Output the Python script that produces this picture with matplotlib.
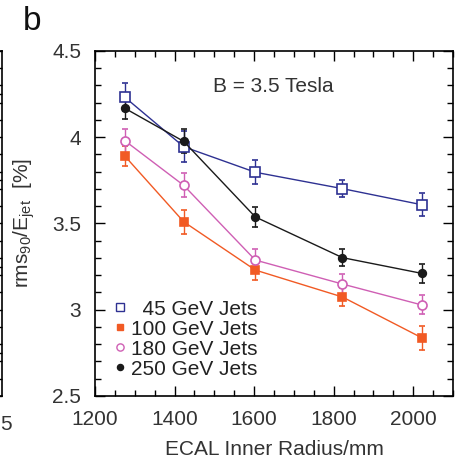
import matplotlib.pyplot as plt
from matplotlib.ticker import MultipleLocator
from matplotlib.lines import Line2D

plt.rcParams['font.family'] = ['Liberation Sans', 'DejaVu Sans']
plt.rcParams['mathtext.fontset'] = 'custom'
plt.rcParams['mathtext.rm'] = 'Liberation Sans'
plt.rcParams['mathtext.it'] = 'Liberation Sans:italic'

radius = [1275, 1423, 1603, 1822, 2021]
jets = ['45', '100', '180', '250']
labels = ['  45 GeV Jets', '100 GeV Jets', '180 GeV Jets', '250 GeV Jets']
rms = {
    '45': [4.232, 3.945, 3.797, 3.702, 3.609],
    '100': [3.891, 3.510, 3.230, 3.074, 2.838],
    '180': [3.980, 3.721, 3.288, 3.149, 3.028],
    '250': [4.168, 3.976, 3.538, 3.302, 3.211],
}
err = {
    '45': [0.08, 0.09, 0.07, 0.05, 0.065],
    '100': [0.06, 0.07, 0.06, 0.05, 0.07],
    '180': [0.07, 0.07, 0.065, 0.06, 0.055],
    '250': [0.06, 0.07, 0.06, 0.05, 0.055],
}
colors = {'45': '#2E3192', '100': '#F15A24', '180': '#CF5FB4', '250': '#1A1A1A'}
markers = {'45': 's', '100': 's', '180': 'o', '250': 'o'}
filled = {'45': False, '100': True, '180': False, '250': True}
msize = {'45': 7, '100': 6, '180': 6.5, '250': 5.5}
FS = 15

fig = plt.figure(figsize=(4.58, 4.59), dpi=100)

# edge of the neighbouring panel (cut off)
axl = fig.add_axes([-0.5, 0.1373, 0.5044, 0.7516])
axl.set_xticks([])
axl.set_ylim(2.5, 4.5)
axl.yaxis.set_minor_locator(MultipleLocator(0.1))
axl.tick_params(axis='y', which='both', direction='in', left=False, right=True,
                labelleft=False, length=5, width=1)
for s in axl.spines.values():
    s.set_linewidth(1.2)
fig.text(0.001, 0.075, '5', fontsize=FS, color='#333333', ha='left', va='center')

ax = fig.add_axes([0.2074, 0.1373, 0.7817, 0.7516])
handles = []
for j, lab in zip(jets, labels):
    c = colors[j]
    mfc = c if filled[j] else 'white'
    ax.errorbar(radius, rms[j], yerr=err[j], color=c, ecolor=c, lw=1.0, elinewidth=1.0,
                capsize=2, capthick=1.0, marker=markers[j], ms=msize[j],
                mfc=mfc, mec=c, mew=1.2)
    handles.append(Line2D([], [], ls='none', marker=markers[j], ms=msize[j] * 0.8,
                          mfc=mfc, mec=c, mew=1.0, label=lab))

ax.set_xlim(1200, 2100)
ax.set_ylim(2.5, 4.5)
ax.set_xticks([1200, 1400, 1600, 1800, 2000])
ax.set_yticks([2.5, 3, 3.5, 4, 4.5])
ax.set_yticklabels(['2.5', '3', '3.5', '4', '4.5'])
ax.xaxis.set_minor_locator(MultipleLocator(50))
ax.yaxis.set_minor_locator(MultipleLocator(0.1))
ax.tick_params(which='both', direction='in', top=True, right=True, width=1,
               labelsize=FS, labelcolor='#333333')
ax.tick_params(which='major', length=7)
ax.tick_params(which='minor', length=4)
ax.tick_params(axis='x', pad=10)
ax.tick_params(axis='y', pad=10)
for s in ax.spines.values():
    s.set_linewidth(1.2)

ax.set_xlabel('ECAL Inner Radius/mm', fontsize=FS, color='#333333', labelpad=8)
ax.set_ylabel('rms$_{\\rm 90}$/E$_{\\rm jet}$  [%]', fontsize=FS, color='#333333', labelpad=11)
ax.text(0.33, 0.896, 'B = 3.5 Tesla', transform=ax.transAxes, fontsize=FS,
        color='#333333', va='center')

leg = ax.legend(handles=handles, loc='lower left', bbox_to_anchor=(0.055, 0.05),
                frameon=False, fontsize=FS, handlelength=0.5, handletextpad=0.3,
                labelspacing=0.05, borderpad=0, borderaxespad=0)
for t in leg.get_texts():
    t.set_color('#222222')

fig.text(0.05, 0.953, 'b', fontsize=24, color='#111111', ha='left', va='center')

fig.savefig('out.png', dpi=100)
